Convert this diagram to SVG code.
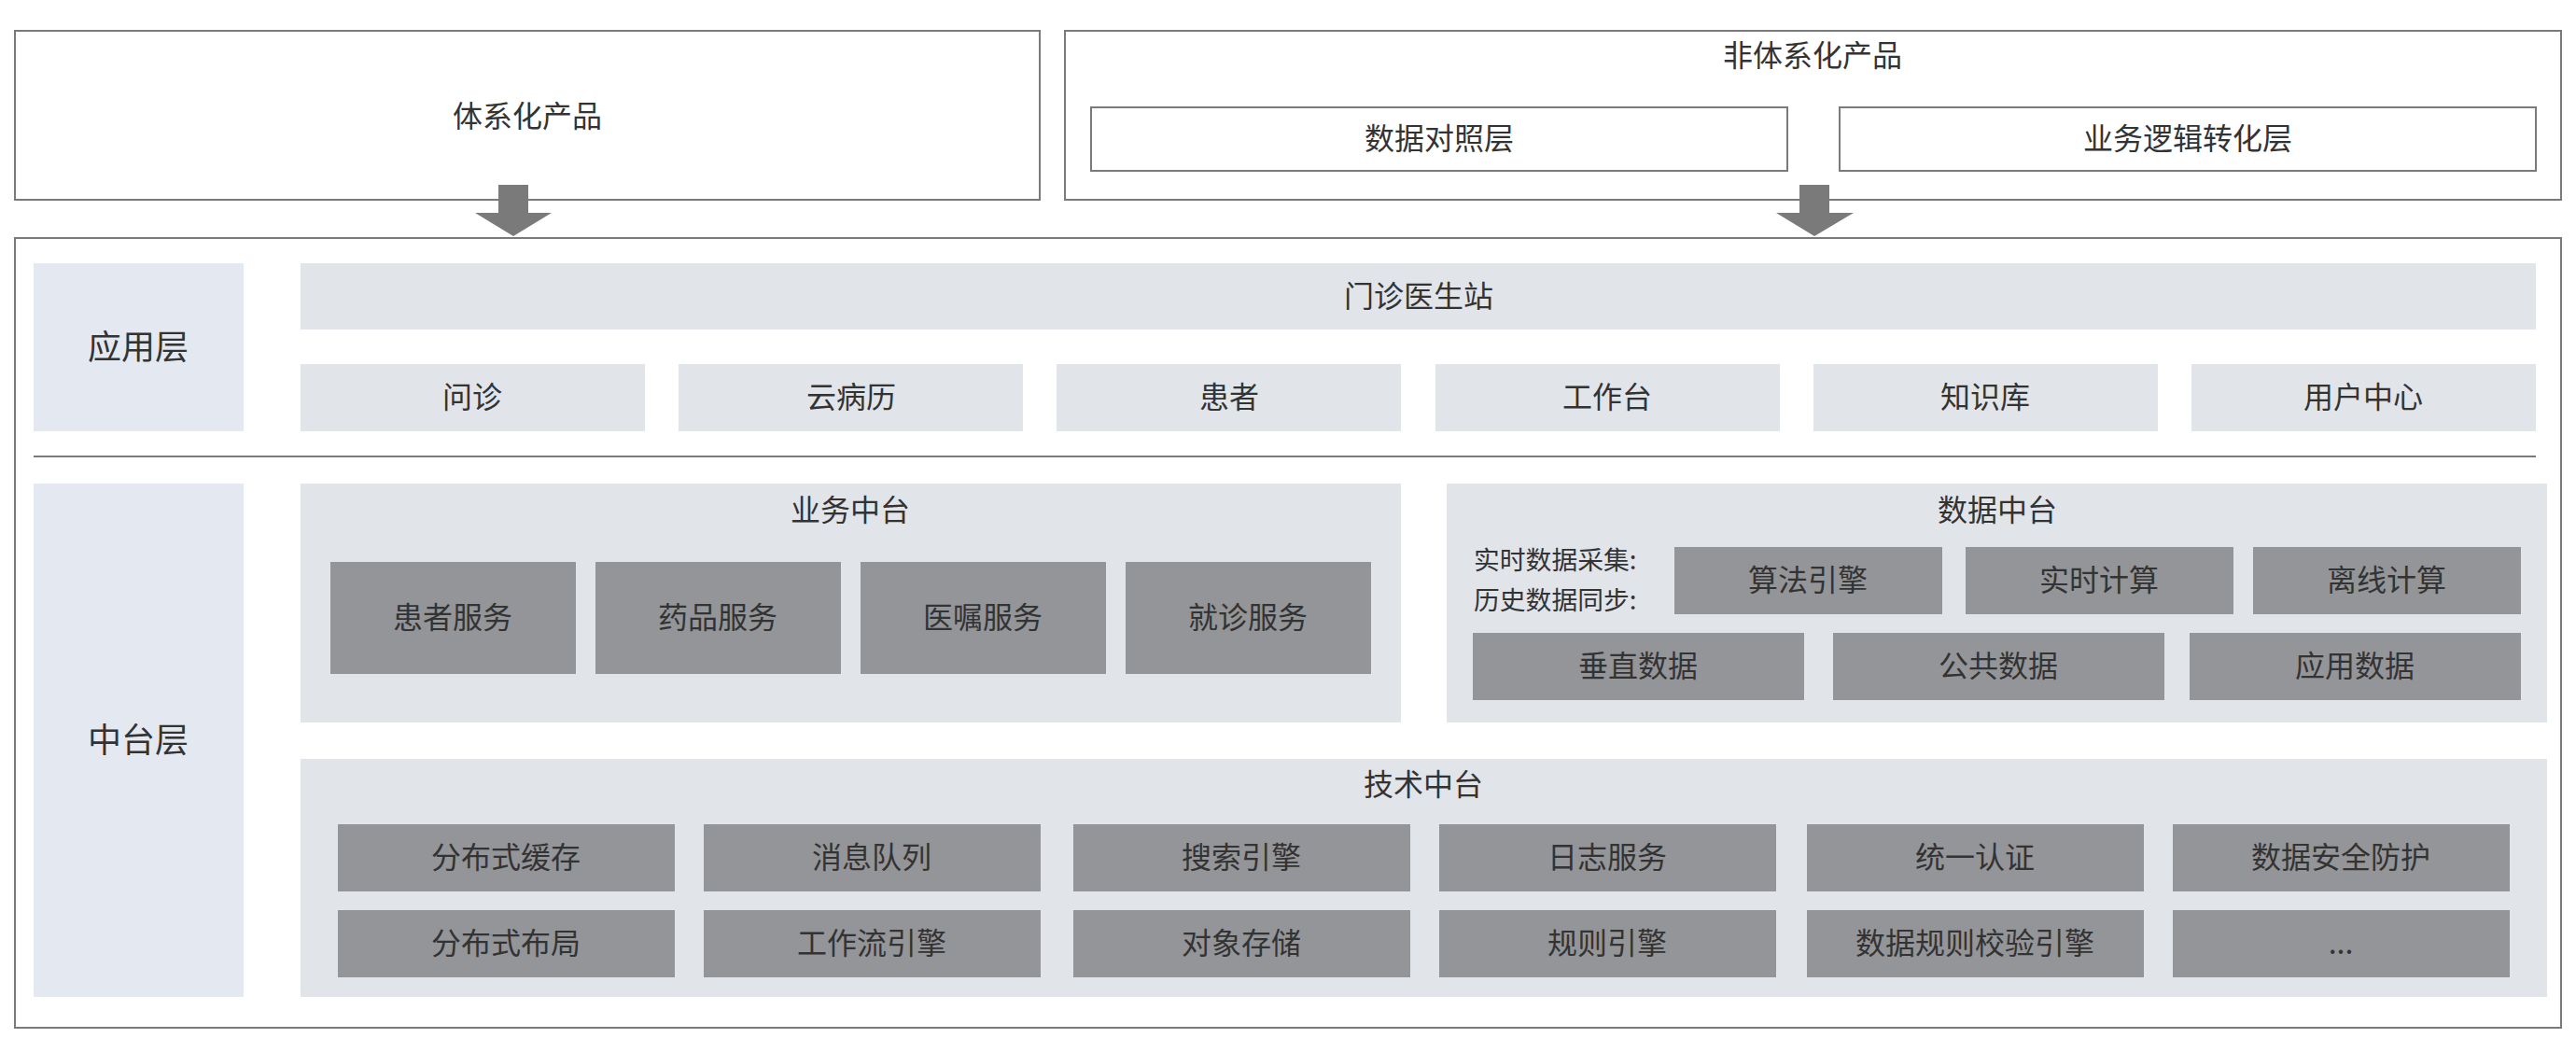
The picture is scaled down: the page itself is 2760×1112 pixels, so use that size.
<svg xmlns="http://www.w3.org/2000/svg" width="2760" height="1112" viewBox="0 0 2760 1112">
<style>
text{font-family:"Noto Sans CJK SC","Noto Sans",sans-serif;fill:#333;text-anchor:middle;dominant-baseline:central}
.frame{fill:#fff;stroke:#7a7a7a;stroke-width:2}
.layer{fill:#e4e8f0}
.panel{fill:#e1e4e9}
.dark{fill:#939598}
.t32{font-size:32px}
.t36{font-size:36px}
.t27{font-size:27.8px;text-anchor:start}
.arrow{fill:#7a7a7a}
</style>
<rect width="2760" height="1112" fill="#fff"/>
<g id="sys-products">
<rect class="frame" x="16" y="33" width="1098" height="181"/>
<text class="t32" x="565" y="122">体系化产品</text>
</g>
<g id="non-sys-products">
<rect class="frame" x="1141" y="33" width="1603" height="181"/>
<text class="t32" x="1942" y="57">非体系化产品</text>
</g>
<g id="data-mapping">
<rect class="frame" x="1169" y="115" width="746" height="68"/>
<text class="t32" x="1542" y="146">数据对照层</text>
</g>
<g id="biz-logic">
<rect class="frame" x="1971" y="115" width="746" height="68"/>
<text class="t32" x="2344" y="146">业务逻辑转化层</text>
</g>
<g id="main-frame">
<rect class="frame" x="16" y="255" width="2728" height="846"/>
<line x1="36" y1="489" x2="2717" y2="489" stroke="#7a7a7a" stroke-width="2"/>
</g>
<g id="connectors">
<polygon class="arrow" points="534,198 566,198 566,228 591,228 550,253 509,228 534,228"/>
<polygon class="arrow" points="1928,198 1960,198 1960,228 1986,228 1944,253 1903,228 1928,228"/>
</g>
<g id="app-layer">
<rect class="layer" x="36" y="282" width="225" height="180"/>
<text class="t36" x="148" y="369">应用层</text>
</g>
<g id="clinic">
<rect class="panel" x="322" y="282" width="2395" height="71"/>
<text class="t32" x="1520" y="315">门诊医生站</text>
</g>
<g id="app-items">
<rect class="panel" x="322" y="390" width="369" height="72"/><text class="t32" x="506" y="423">问诊</text>
<rect class="panel" x="727" y="390" width="369" height="72"/><text class="t32" x="912" y="423">云病历</text>
<rect class="panel" x="1132" y="390" width="369" height="72"/><text class="t32" x="1317" y="423">患者</text>
<rect class="panel" x="1538" y="390" width="369" height="72"/><text class="t32" x="1722" y="423">工作台</text>
<rect class="panel" x="1943" y="390" width="369" height="72"/><text class="t32" x="2127" y="423">知识库</text>
<rect class="panel" x="2348" y="390" width="369" height="72"/><text class="t32" x="2532" y="423">用户中心</text>
</g>
<g id="middle-layer">
<rect class="layer" x="36" y="518" width="225" height="550"/>
<text class="t36" x="148" y="790">中台层</text>
</g>
<g id="biz-platform">
<rect class="panel" x="322" y="518" width="1179" height="256"/>
<text class="t32" x="911" y="544">业务中台</text>
<rect class="dark" x="354" y="602" width="263" height="120"/><text class="t32" x="485" y="659">患者服务</text>
<rect class="dark" x="638" y="602" width="263" height="120"/><text class="t32" x="769" y="659">药品服务</text>
<rect class="dark" x="922" y="602" width="263" height="120"/><text class="t32" x="1053" y="659">医嘱服务</text>
<rect class="dark" x="1206" y="602" width="263" height="120"/><text class="t32" x="1337" y="659">就诊服务</text>
</g>
<g id="data-platform">
<rect class="panel" x="1550" y="518" width="1179" height="256"/>
<text class="t32" x="2140" y="544">数据中台</text>
<text class="t27" x="1579" y="598">实时数据采集:</text>
<text class="t27" x="1579" y="641">历史数据同步:</text>
<rect class="dark" x="1794" y="586" width="287" height="72"/><text class="t32" x="1937" y="619">算法引擎</text>
<rect class="dark" x="2106" y="586" width="287" height="72"/><text class="t32" x="2249" y="619">实时计算</text>
<rect class="dark" x="2414" y="586" width="287" height="72"/><text class="t32" x="2557" y="619">离线计算</text>
<rect class="dark" x="1578" y="678" width="355" height="72"/><text class="t32" x="1755" y="711">垂直数据</text>
<rect class="dark" x="1964" y="678" width="355" height="72"/><text class="t32" x="2141" y="711">公共数据</text>
<rect class="dark" x="2346" y="678" width="355" height="72"/><text class="t32" x="2523" y="711">应用数据</text>
</g>
<g id="tech-platform">
<rect class="panel" x="322" y="813" width="2407" height="255"/>
<text class="t32" x="1525" y="838">技术中台</text>
<rect class="dark" x="362" y="883" width="361" height="72"/><text class="t32" x="542" y="916">分布式缓存</text>
<rect class="dark" x="754" y="883" width="361" height="72"/><text class="t32" x="934" y="916">消息队列</text>
<rect class="dark" x="1150" y="883" width="361" height="72"/><text class="t32" x="1330" y="916">搜索引擎</text>
<rect class="dark" x="1542" y="883" width="361" height="72"/><text class="t32" x="1722" y="916">日志服务</text>
<rect class="dark" x="1936" y="883" width="361" height="72"/><text class="t32" x="2116" y="916">统一认证</text>
<rect class="dark" x="2328" y="883" width="361" height="72"/><text class="t32" x="2508" y="916">数据安全防护</text>
<rect class="dark" x="362" y="975" width="361" height="72"/><text class="t32" x="542" y="1008">分布式布局</text>
<rect class="dark" x="754" y="975" width="361" height="72"/><text class="t32" x="934" y="1008">工作流引擎</text>
<rect class="dark" x="1150" y="975" width="361" height="72"/><text class="t32" x="1330" y="1008">对象存储</text>
<rect class="dark" x="1542" y="975" width="361" height="72"/><text class="t32" x="1722" y="1008">规则引擎</text>
<rect class="dark" x="1936" y="975" width="361" height="72"/><text class="t32" x="2116" y="1008">数据规则校验引擎</text>
<rect class="dark" x="2328" y="975" width="361" height="72"/><text class="t32" x="2508" y="1008">...</text>
</g>
</svg>
